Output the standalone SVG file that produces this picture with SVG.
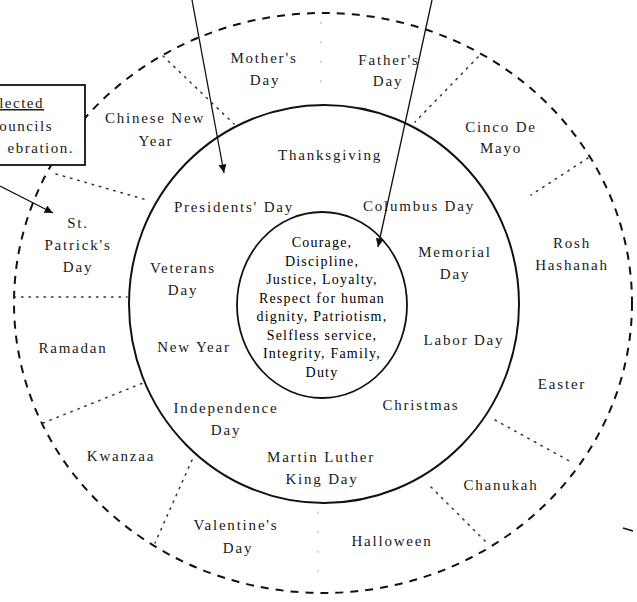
<svg xmlns="http://www.w3.org/2000/svg" width="637" height="602" viewBox="0 0 637 602">
<defs>
<marker id="ah" markerWidth="10" markerHeight="9" refX="8.5" refY="4" orient="auto" markerUnits="userSpaceOnUse">
<path d="M0,0 L8.5,4 L0,8 z" fill="#111"/>
</marker>
<style>
.t{font-family:"Liberation Serif","Times New Roman",serif;font-size:15px;letter-spacing:1.8px;fill:#1a1a1a;text-anchor:middle}
.c{font-family:"Liberation Serif","Times New Roman",serif;font-size:14px;letter-spacing:1.2px;fill:#000;text-anchor:middle}
.b{font-family:"Liberation Serif","Times New Roman",serif;font-size:15px;letter-spacing:1.5px;fill:#1a1a1a;text-anchor:end}
.dot{fill:none;stroke:#333;stroke-width:1.5;stroke-dasharray:1.5 6;stroke-linecap:round}
.faint{fill:none;stroke:#bbb;stroke-width:1.2;stroke-dasharray:1.5 18;stroke-linecap:round}
.arrow{fill:none;stroke:#111;stroke-width:1.3;marker-end:url(#ah)}
</style>
</defs>
<rect width="637" height="602" fill="#fff"/>

<g id="rings">
<ellipse id="outer-ring" cx="323" cy="303" rx="309" ry="290" fill="none" stroke="#111" stroke-width="2" stroke-dasharray="8 7"/>
<ellipse id="middle-ring" cx="324" cy="304" rx="195" ry="199" fill="none" stroke="#111" stroke-width="2"/>
<ellipse id="inner-ring" cx="322" cy="305" rx="85" ry="93" fill="none" stroke="#111" stroke-width="1.8"/>
</g>

<g id="dividers">
<line class="dot" x1="56" y1="174" x2="147" y2="200"/>
<line class="dot" x1="163" y1="56" x2="234" y2="124"/>
<line class="faint" x1="321" y1="22" x2="321" y2="100"/>
<line class="dot" x1="478" y1="57" x2="415" y2="122"/>
<line class="dot" x1="588" y1="158" x2="531" y2="195"/>
<line class="dot" x1="495" y1="420" x2="573" y2="463"/>
<line class="dot" x1="431" y1="487" x2="487" y2="543"/>
<line class="faint" x1="318" y1="512" x2="318" y2="590"/>
<line class="dot" x1="192" y1="460" x2="155" y2="543"/>
<line class="dot" x1="43" y1="423" x2="143" y2="383"/>
<line class="dot" x1="14" y1="297" x2="127" y2="297"/>
</g>

<g id="note">
<rect x="-3" y="85" width="88" height="80" fill="#fff" stroke="#111" stroke-width="1.8"/>
<text class="b" x="44" y="108" text-decoration="underline">lected</text>
<text class="b" x="53" y="131">ouncils</text>
<text class="b" x="74" y="153">ebration.</text>
</g>

<g id="connectors">
<line class="arrow" x1="192" y1="0" x2="224" y2="173"/>
<line class="arrow" x1="432" y1="0" x2="378" y2="247"/>
<line class="arrow" x1="0" y1="186" x2="53" y2="213"/>
<line x1="623" y1="528" x2="633" y2="531" stroke="#111" stroke-width="1.8"/>
</g>

<g id="values">
<text class="c" x="322" y="247">Courage,</text>
<text class="c" x="322" y="265.5">Discipline,</text>
<text class="c" x="322" y="284">Justice, Loyalty,</text>
<text class="c" x="322" y="302.5">Respect for human</text>
<text class="c" x="322" y="321">dignity, Patriotism,</text>
<text class="c" x="322" y="339.5">Selfless service,</text>
<text class="c" x="322" y="358">Integrity, Family,</text>
<text class="c" x="322" y="376.5">Duty</text>
</g>

<g id="national-holidays">
<g id="thanksgiving"><text class="t" x="330" y="160">Thanksgiving</text></g>
<g id="presidents-day"><text class="t" x="234" y="212">Presidents' Day</text></g>
<g id="columbus-day"><text class="t" x="419" y="211">Columbus Day</text></g>
<g id="veterans-day"><text class="t" x="183" y="273">Veterans</text><text class="t" x="183" y="295">Day</text></g>
<g id="memorial-day"><text class="t" x="455" y="257">Memorial</text><text class="t" x="455" y="279">Day</text></g>
<g id="new-year"><text class="t" x="194" y="352">New Year</text></g>
<g id="labor-day"><text class="t" x="464" y="345">Labor Day</text></g>
<g id="independence-day"><text class="t" x="226" y="413">Independence</text><text class="t" x="226" y="435">Day</text></g>
<g id="christmas"><text class="t" x="421" y="410">Christmas</text></g>
<g id="mlk-day"><text class="t" x="321" y="462">Martin Luther</text><text class="t" x="322" y="484">King Day</text></g>
</g>

<g id="cultural-holidays">
<g id="mothers-day"><text class="t" x="264" y="63">Mother's</text><text class="t" x="265" y="85">Day</text></g>
<g id="fathers-day"><text class="t" x="389" y="65">Father's</text><text class="t" x="388" y="86">Day</text></g>
<g id="chinese-new-year"><text class="t" x="155" y="123">Chinese New</text><text class="t" x="156" y="146">Year</text></g>
<g id="cinco-de-mayo"><text class="t" x="501" y="132">Cinco De</text><text class="t" x="501" y="153">Mayo</text></g>
<g id="st-patricks-day"><text class="t" x="78" y="228">St.</text><text class="t" x="78" y="250">Patrick's</text><text class="t" x="78" y="272">Day</text></g>
<g id="rosh-hashanah"><text class="t" x="572" y="248">Rosh</text><text class="t" x="572" y="270">Hashanah</text></g>
<g id="ramadan"><text class="t" x="73" y="353">Ramadan</text></g>
<g id="easter"><text class="t" x="562" y="389">Easter</text></g>
<g id="kwanzaa"><text class="t" x="121" y="461">Kwanzaa</text></g>
<g id="chanukah"><text class="t" x="501" y="490">Chanukah</text></g>
<g id="valentines-day"><text class="t" x="236" y="530">Valentine's</text><text class="t" x="238" y="553">Day</text></g>
<g id="halloween"><text class="t" x="392" y="546">Halloween</text></g>
</g>
</svg>
